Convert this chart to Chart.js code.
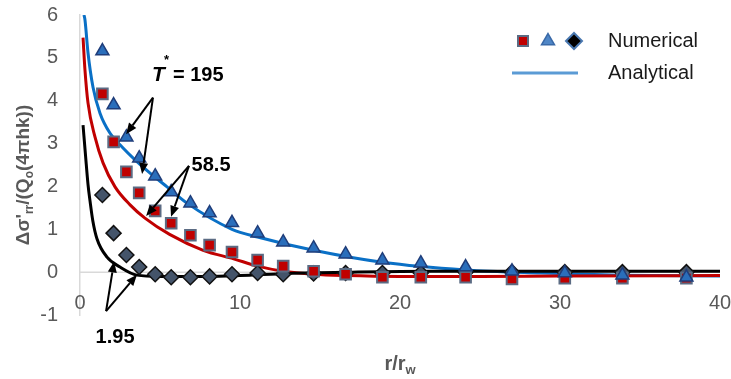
<!DOCTYPE html>
<html>
<head>
<meta charset="utf-8">
<script src="https://cdn.jsdelivr.net/npm/chart.js@4/dist/chart.umd.min.js"></script>
<style>
  html, body { margin: 0; padding: 0; background: #ffffff; }
  #wrap { width: 731px; height: 379px; }
</style>
</head>
<body>
<div id="wrap"><canvas id="c" width="731" height="379"></canvas></div>
<script>
// Normalised radial distance r/rw of the numerical sample points
const rRatio = [1.4, 2.1, 2.9, 3.7, 4.7, 5.7, 6.9, 8.1, 9.5, 11.1, 12.7, 14.6, 16.6, 18.9, 21.3, 24.1, 27.0, 30.3, 33.9, 37.9];

// Numerical stress change for each dimensionless time T*
const numT195  = [5.16, 3.90, 3.15, 2.66, 2.24, 1.87, 1.61, 1.38, 1.15, 0.91, 0.70, 0.56, 0.42, 0.28, 0.21, 0.12, 0.02, -0.02, -0.07, -0.12];
const numT58_5 = [4.16, 3.04, 2.34, 1.85, 1.43, 1.14, 0.86, 0.63, 0.47, 0.28, 0.14, 0.02, -0.05, -0.12, -0.12, -0.12, -0.16, -0.14, -0.14, -0.14];
const numT1_95 = [1.80, 0.91, 0.40, 0.12, -0.05, -0.12, -0.12, -0.10, -0.05, -0.02, -0.05, -0.03, -0.02, -0.02, -0.02, 0.0, 0.0, 0.0, 0.0, 0.0];

// Analytical solution curves
const anaT195X  = [0.25, 0.31, 0.5, 0.81, 1.25, 1.88, 2.63, 3.44, 4.38, 5.44, 6.69, 9.5, 11.1, 14.6, 18.9, 24.1, 28.8, 33.8, 40];
const anaT195Y  = [6.0, 5.89, 5.12, 4.32, 3.71, 3.24, 2.92, 2.62, 2.31, 1.99, 1.61, 1.0, 0.82, 0.51, 0.23, 0.05, -0.02, -0.07, -0.09];
const anaT58_5X = [0.19, 0.31, 0.5, 0.94, 1.44, 2.19, 3.13, 4.06, 5.6, 7.7, 9.6, 11.1, 12.7, 14.6, 16.6, 20, 25, 30, 40];
const anaT58_5Y = [5.47, 4.72, 3.95, 3.15, 2.55, 1.99, 1.57, 1.26, 0.88, 0.51, 0.31, 0.14, 0.02, -0.05, -0.08, -0.1, -0.1, -0.09, -0.08];
const anaT1_95X = [0.19, 0.35, 0.5, 0.63, 0.8, 1.06, 1.69, 2.5, 3.56, 5, 8, 10, 13, 17, 22, 40];
const anaT1_95Y = [3.43, 2.7, 2.05, 1.65, 1.2, 0.78, 0.35, 0.12, -0.07, -0.1, -0.1, -0.08, -0.03, 0.0, 0.02, 0.02];

// Axis ticks
const xTicks = [0, 10, 20, 30, 40];
const yTicks = [-1, 0, 1, 2, 3, 4, 5, 6];

// Callout labels with their arrows (data units)
const callouts = [
  { label: '195', star: true, at: [4.5, 4.6], from: [4.56, 4.07], to: [[2.88, 3.22], [3.88, 2.29]] },
  { label: '58.5', at: [8.19, 2.5], from: [6.81, 2.48], to: [[4.13, 1.31], [5.69, 1.29]] },
  { label: '1.95', at: [2.19, -1.52], from: [1.63, -0.91], to: [[2.13, 0.25], [3.56, -0.06]] }
];

const pts = (xs, ys) => xs.map((x, i) => ({ x: x, y: ys[i] }));

const FONT = "'Liberation Sans', Arial, sans-serif";
const GREY = '#595959';

const markerSquare   = { pointStyle: 'rect',     radius: 7.5, backgroundColor: '#c00000', borderColor: '#5b6b83', borderWidth: 2 };
const markerTriangle = { pointStyle: 'triangle', radius: 7.5, backgroundColor: '#2a6ebb', borderColor: '#1f3d7a', borderWidth: 1.5 };
const markerDiamond  = { pointStyle: 'rectRot',  radius: 7.5, backgroundColor: '#44546a', borderColor: '#111111', borderWidth: 1.5 };

function scatterSet(label, data, m, order) {
  return {
    type: 'scatter', label: label, data: data, showLine: false, order: order,
    pointStyle: m.pointStyle, pointRadius: m.radius, pointHoverRadius: m.radius,
    pointBackgroundColor: m.backgroundColor, pointBorderColor: m.borderColor, pointBorderWidth: m.borderWidth
  };
}
function curveSet(label, data, color, order) {
  return {
    type: 'line', label: label, data: data, showLine: true, order: order,
    borderColor: color, borderWidth: 3, pointRadius: 0, fill: false,
    cubicInterpolationMode: 'monotone'
  };
}

// Draws a run of text pieces, some of them lowered as subscripts
function drawRich(ctx, parts, x, y, size, weight, color, align) {
  const sub = Math.round(size * 0.65);
  let total = 0;
  parts.forEach(p => {
    ctx.font = weight + ' ' + (p.sub ? sub : size) + 'px ' + FONT;
    p.w = ctx.measureText(p.t).width;
    total += p.w;
  });
  let cx = align === 'center' ? x - total / 2 : x;
  ctx.fillStyle = color;
  ctx.textAlign = 'left';
  ctx.textBaseline = 'middle';
  parts.forEach(p => {
    ctx.font = weight + ' ' + (p.sub ? sub : size) + 'px ' + FONT;
    ctx.fillText(p.t, cx, p.sub ? y + size * 0.3 : y);
    cx += p.w;
  });
}

function arrow(ctx, x1, y1, x2, y2) {
  const ang = Math.atan2(y2 - y1, x2 - x1);
  const len = 11, half = 4.5;
  const bx = x2 - Math.cos(ang) * len, by = y2 - Math.sin(ang) * len;
  ctx.beginPath();
  ctx.moveTo(x1, y1);
  ctx.lineTo(bx, by);
  ctx.stroke();
  ctx.beginPath();
  ctx.moveTo(x2, y2);
  ctx.lineTo(bx + Math.sin(ang) * half, by - Math.cos(ang) * half);
  ctx.lineTo(bx - Math.sin(ang) * half, by + Math.cos(ang) * half);
  ctx.closePath();
  ctx.fill();
}

const decorations = {
  id: 'decorations',
  beforeDatasetsDraw(chart) {
    const { ctx, chartArea, scales } = chart;
    const y0 = scales.y.getPixelForValue(0);
    ctx.save();
    ctx.strokeStyle = '#d9d9d9';
    ctx.lineWidth = 1.5;
    ctx.beginPath();
    ctx.moveTo(chartArea.left, y0);
    ctx.lineTo(chartArea.right, y0);
    ctx.stroke();
    ctx.restore();
  },
  afterDraw(chart) {
    const { ctx, scales } = chart;
    const sx = scales.x, sy = scales.y;
    const y0 = sy.getPixelForValue(0);
    ctx.save();

    // x tick labels sit just under the zero line
    ctx.font = '20px ' + FONT;
    ctx.fillStyle = GREY;
    ctx.textAlign = 'center';
    ctx.textBaseline = 'middle';
    xTicks.forEach(v => ctx.fillText(String(v), sx.getPixelForValue(v), y0 + 31));

    // axis titles
    drawRich(ctx, [{ t: 'r/r' }, { t: 'w', sub: true }], (chart.chartArea.left + chart.chartArea.right) / 2, 364, 20, 'bold', GREY, 'center');
    ctx.save();
    ctx.translate(24, 175);
    ctx.rotate(-Math.PI / 2);
    drawRich(ctx, [{ t: 'Δσ\'' }, { t: 'rr', sub: true }, { t: '/(Q' }, { t: 'o', sub: true }, { t: '(4πhk))' }], 0, 0, 19, 'bold', GREY, 'center');
    ctx.restore();

    // callouts
    ctx.strokeStyle = '#000';
    ctx.fillStyle = '#000';
    ctx.lineWidth = 2;
    callouts.forEach(c => {
      const fx = sx.getPixelForValue(c.from[0]), fy = sy.getPixelForValue(c.from[1]);
      c.to.forEach(t => arrow(ctx, fx, fy, sx.getPixelForValue(t[0]), sy.getPixelForValue(t[1])));
      const ax = sx.getPixelForValue(c.at[0]), ay = sy.getPixelForValue(c.at[1]);
      ctx.fillStyle = '#000';
      ctx.textBaseline = 'middle';
      if (c.star) {
        ctx.textAlign = 'left';
        ctx.font = 'italic bold 21px ' + FONT;
        ctx.fillText('T', ax, ay);
        ctx.font = 'bold 13px ' + FONT;
        ctx.fillText('*', ax + 12, ay - 15);
        ctx.font = 'bold 20px ' + FONT;
        ctx.fillText('= ' + c.label, ax + 21, ay);
      } else {
        ctx.textAlign = 'center';
        ctx.font = 'bold 20px ' + FONT;
        ctx.fillText(c.label, ax, ay);
      }
    });

    // legend
    const H = Chart.helpers;
    const ly1 = 41, ly2 = 73;
    ctx.fillStyle = '#c00000'; ctx.strokeStyle = '#5b6b83'; ctx.lineWidth = 2;
    ctx.beginPath(); ctx.rect(518, ly1 - 5, 10, 10); ctx.fill(); ctx.stroke();
    ctx.fillStyle = '#4f86c6'; ctx.strokeStyle = '#3a6aa8'; ctx.lineWidth = 1.5;
    H.drawPoint(ctx, { pointStyle: 'triangle', radius: 7.5, borderWidth: 1.5 }, 548, ly1);
    ctx.fillStyle = '#000000'; ctx.strokeStyle = '#4a78b0'; ctx.lineWidth = 2;
    H.drawPoint(ctx, { pointStyle: 'rectRot', radius: 8, borderWidth: 2 }, 574, ly1);
    ctx.strokeStyle = '#5b9bd5'; ctx.lineWidth = 3;
    ctx.beginPath(); ctx.moveTo(512, ly2); ctx.lineTo(578, ly2); ctx.stroke();
    ctx.fillStyle = '#1a1a1a';
    ctx.font = '20px ' + FONT;
    ctx.textAlign = 'left';
    ctx.textBaseline = 'middle';
    ctx.fillText('Numerical', 608, ly1);
    ctx.fillText('Analytical', 608, ly2);
    ctx.restore();
  }
};

new Chart(document.getElementById('c'), {
  type: 'scatter',
  data: {
    datasets: [
      scatterSet('Numerical T* = 195', pts(rRatio, numT195), markerTriangle, 1),
      scatterSet('Numerical T* = 58.5', pts(rRatio, numT58_5), markerSquare, 2),
      scatterSet('Numerical T* = 1.95', pts(rRatio, numT1_95), markerDiamond, 3),
      curveSet('Analytical T* = 1.95', pts(anaT1_95X, anaT1_95Y), '#000000', 4),
      curveSet('Analytical T* = 58.5', pts(anaT58_5X, anaT58_5Y), '#c00000', 5),
      curveSet('Analytical T* = 195', pts(anaT195X, anaT195Y), '#0a70c6', 6)
    ]
  },
  options: {
    responsive: false,
    animation: false,
    devicePixelRatio: 1,
    layout: { padding: { left: 20, top: 15, right: 11, bottom: 64 } },
    plugins: { legend: { display: false }, tooltip: { enabled: false } },
    scales: {
      x: { type: 'linear', min: 0, max: 40, display: false },
      y: {
        type: 'linear', min: -1, max: 6,
        afterFit: s => { s.width = 60; s.paddingTop = 0; s.paddingBottom = 0; },
        afterBuildTicks: s => { s.ticks = yTicks.map(v => ({ value: v })); },
        grid: { display: false, drawTicks: false },
        border: { display: true, color: '#d9d9d9', width: 1.5 },
        ticks: { color: GREY, padding: 22, font: { family: FONT, size: 20 } }
      }
    }
  },
  plugins: [decorations]
});
</script>
</body>
</html>
